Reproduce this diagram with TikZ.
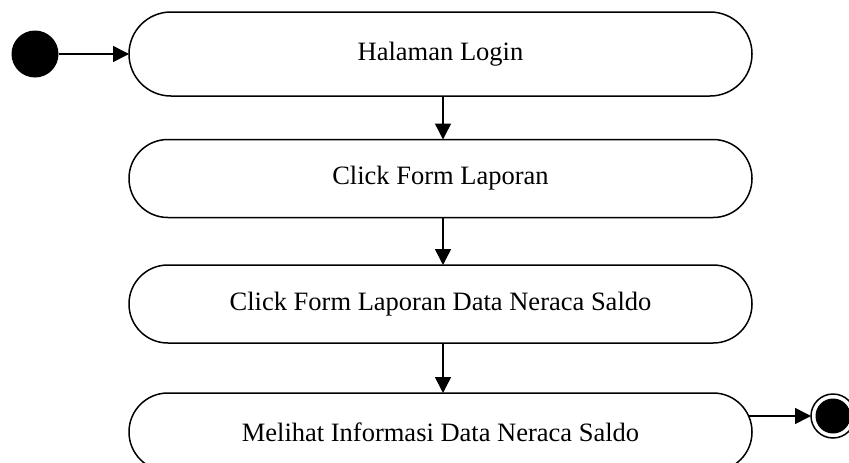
\documentclass[tikz,border=0pt]{standalone}
\usepackage{fontspec}
\setmainfont{Liberation Serif}
\usetikzlibrary{arrows.meta,calc}
\begin{document}
\begin{tikzpicture}[x=1pt,y=-1pt,
  every node/.style={inner sep=0pt, outer sep=0pt},
  state/.style={draw, line width=1.5pt, minimum width=623pt, font=\fontsize{26.5}{31}\selectfont},
  arr/.style={line width=1.5pt, -{Triangle[length=16pt,width=16pt]}}]
\useasboundingbox (0,0) rectangle (849,463);
\clip (0,0) rectangle (849,463);
\node[state, minimum height=84pt, rounded corners=41.9pt] (s1) at (440.5,54) {Halaman Login};
\node[state, minimum height=78pt, rounded corners=38.9pt] (s2) at (440.5,178.5) {Click Form Laporan};
\node[state, minimum height=78pt, rounded corners=38.9pt] (s3) at (440.5,304) {Click Form Laporan Data Neraca Saldo};
\node[state, minimum height=78pt, rounded corners=38.9pt] (s4) at (440.5,432) {Melihat Informasi Data Neraca Saldo};
\node[circle, fill=black, minimum size=47pt] (start) at (35,54) {};
\node[circle, draw, line width=1.5pt, minimum size=44pt] (fin) at (833,416) {};
\node[circle, fill=black, minimum size=35pt] (finin) at (fin.center) {};
\draw[arr] (start.east) -- (s1.west);
\draw[arr] (s1.south -| 443,0) -- (s2.north -| 443,0);
\draw[arr] (s2.south -| 443,0) -- (s3.north -| 443,0);
\draw[arr] (s3.south -| 443,0) -- (s4.north -| 443,0);
\draw[arr] ($(s4.east |- fin.west)+(-3.5,0)$) -- (fin.west);
\end{tikzpicture}
\end{document}
